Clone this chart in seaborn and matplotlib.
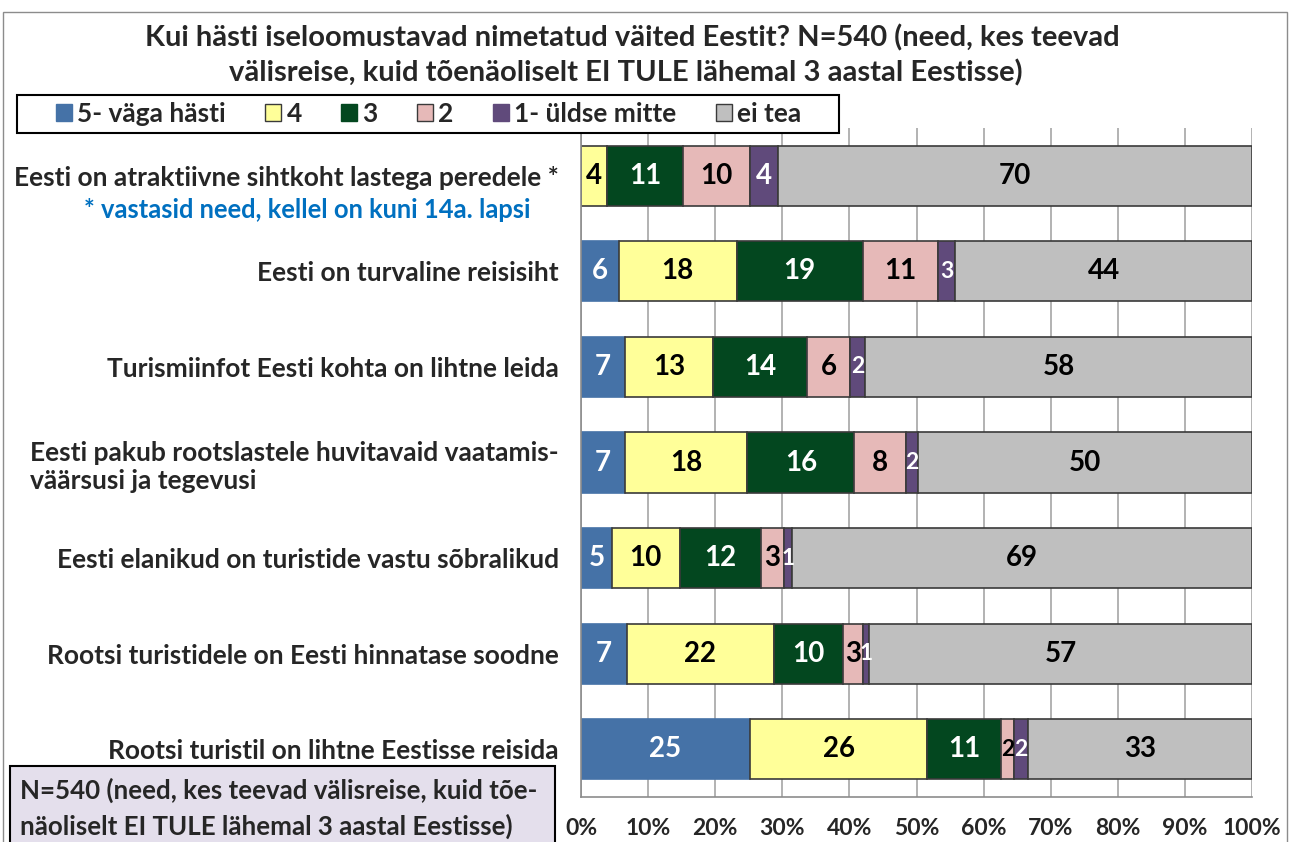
import numpy as np
import pandas as pd
import matplotlib.pyplot as plt
import seaborn as sns
from matplotlib.patches import Patch, Rectangle

# Väited (kategooriad)
categories = [
    "Eesti on atraktiivne sihtkoht lastega peredele *",
    "Eesti on turvaline reisisiht",
    "Turismiinfot Eesti kohta on lihtne leida",
    "Eesti pakub rootslastele huvitavaid vaatamis-\nväärsusi ja tegevusi",
    "Eesti elanikud on turistide vastu sõbralikud",
    "Rootsi turistidele on Eesti hinnatase soodne",
    "Rootsi turistil on lihtne Eestisse reisida",
]

# Vastuste jaotus, %
s5 = [0.0, 5.6, 6.6, 6.6, 4.6, 6.9, 25.2]
s4 = [3.8, 17.6, 13.1, 18.2, 10.1, 21.8, 26.4]
s3 = [11.4, 18.8, 14.0, 15.9, 12.1, 10.3, 11.0]
s2 = [9.9, 11.2, 6.4, 7.8, 3.4, 3.1, 1.9]
s1 = [4.2, 2.6, 2.2, 1.7, 1.2, 0.8, 2.1]
s0 = [70.4, 44.2, 57.7, 49.8, 68.6, 57.1, 33.4]

series_names = ["5- väga hästi", "4", "3", "2", "1- üldse mitte", "ei tea"]
series_vals = [s5, s4, s3, s2, s1, s0]
colors = ["#4572A7", "#FFFF99", "#03471F", "#E6B9B8", "#604A7B", "#BFBFBF"]
text_colors = ["white", "black", "white", "black", "white", "black"]
x_ticks = [0, 10, 20, 30, 40, 50, 60, 70, 80, 90, 100]

sns.set_style("white")
plt.rcParams["font.family"] = ["Lato", "DejaVu Sans"]
plt.rcParams["font.weight"] = "bold"

fig = plt.figure(figsize=(12.92, 8.42), dpi=100)
ax = fig.add_axes([581 / 1292, 45 / 842, 671 / 1292, 669 / 842])

# 100% tulbad nagu Excelis
vals = np.array(series_vals, dtype=float)
totals = vals.sum(axis=0)
pct = vals / totals * 100
lefts = np.vstack([np.zeros(len(categories)), np.cumsum(pct, axis=0)[:-1]])

for k, name in enumerate(series_names):
    df = pd.DataFrame({"cat": categories, "val": pct[k]})
    edge = colors[k] if k == 0 else "#3A3A3A"
    sns.barplot(data=df, x="val", y="cat", order=categories, color=colors[k],
                saturation=1, width=0.63, errorbar=None, ax=ax,
                left=lefts[k], edgecolor=edge, linewidth=1.2, zorder=2)
    for i in range(len(categories)):
        v = series_vals[k][i]
        if v <= 0:
            continue
        fs = 20 if pct[k][i] >= 3 else 16.5
        ax.text(lefts[k][i] + pct[k][i] / 2, i, f"{v:.0f}", ha="center", va="center",
                color=text_colors[k], fontsize=fs, fontweight="bold", zorder=3)

ax.set_xlim(0, 100)
ax.set_ylim(6.5, -0.5)
ax.set_xticks(x_ticks)
ax.set_xticklabels([f"{t}%" for t in x_ticks], fontsize=16.5, fontweight="bold")
ax.set_yticks(range(len(categories)))
ax.set_yticklabels(categories, fontsize=19, fontweight="bold", multialignment="left")
ax.set_yticks(np.arange(-0.5, 7, 1), minor=True)
ax.tick_params(axis="y", which="major", length=0, pad=16)
ax.tick_params(axis="y", which="minor", length=8, color="#8C8C8C", width=1.2)
ax.tick_params(axis="x", which="major", length=6, color="#8C8C8C", width=1.2, pad=9)
ax.set_xlabel("")
ax.set_ylabel("")
ax.xaxis.grid(True, color="#A6A6A6", linewidth=1.2)
ax.set_axisbelow(True)
for side in ["top", "right"]:
    ax.spines[side].set_visible(False)
for side in ["left", "bottom"]:
    ax.spines[side].set_color("#8C8C8C")
    ax.spines[side].set_linewidth(1.2)

ax.annotate("* vastasid need, kellel on kuni 14a. lapsi", xy=(0, 0),
            xycoords=("axes fraction", "data"), xytext=(-51, -34),
            textcoords="offset pixels", ha="right", va="center",
            color="#0070C0", fontsize=18.4, fontweight="bold")

# Pealkiri
fig.text(632 / 1292, 1 - 38 / 842,
         "Kui hästi iseloomustavad nimetatud väited Eestit? N=540 (need, kes teevad",
         ha="center", va="center", fontsize=21, fontweight="bold")
fig.text(626 / 1292, 1 - 73 / 842,
         "välisreise, kuid tõenäoliselt EI TULE lähemal 3 aastal Eestisse)",
         ha="center", va="center", fontsize=21, fontweight="bold")

# Legend (raam eraldi)
fig.add_artist(Rectangle((17 / 1292, 1 - 133 / 842), 822 / 1292, 38 / 842,
                         transform=fig.transFigure, facecolor="white",
                         edgecolor="black", linewidth=1.5, zorder=5))
handles = [Patch(facecolor=c, edgecolor="#3A3A3A" if i in (1, 3, 5) else c)
           for i, c in enumerate(colors)]
leg = fig.legend(handles, series_names, loc="center left", ncol=6,
                 bbox_to_anchor=(56 / 1292, 1 - 114 / 842),
                 borderaxespad=0, borderpad=0, frameon=False,
                 prop={"size": 19, "weight": "bold"}, handlelength=0.6,
                 handleheight=0.6, handletextpad=0.2, columnspacing=1.5)
leg.set_zorder(6)

# Märkuse kast all vasakul
fig.add_artist(Rectangle((10 / 1292, -0.02), 545 / 1292, 76 / 842 + 0.02,
                         transform=fig.transFigure, facecolor="#E4DFEC",
                         edgecolor="black", linewidth=1.5))
fig.text(20 / 1292, 1 - 790 / 842, "N=540 (need, kes teevad välisreise, kuid tõe-",
         ha="left", va="center", fontsize=18.6, fontweight="bold")
fig.text(20 / 1292, 1 - 826 / 842, "näoliselt EI TULE lähemal 3 aastal Eestisse)",
         ha="left", va="center", fontsize=18.6, fontweight="bold")

# Välimine raam
fig.add_artist(Rectangle((3 / 1292, -0.05), 1284 / 1292, 1 - 12 / 842 + 0.05,
                         transform=fig.transFigure, facecolor="none",
                         edgecolor="#8C8C8C", linewidth=1))

plt.savefig("out.png", dpi=100)
